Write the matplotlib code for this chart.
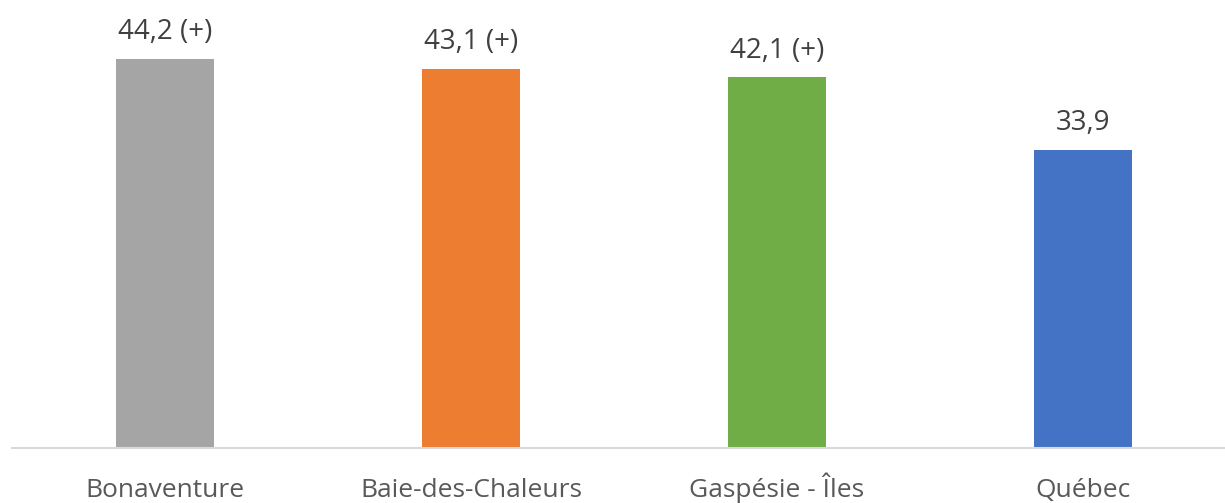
import matplotlib.pyplot as plt

# Chart data
categories = ['Bonaventure', 'Baie-des-Chaleurs', 'Gaspésie - Îles', 'Québec']
values = [44.2, 43.1, 42.1, 33.9]
labels = ['44,2 (+)', '43,1 (+)', '42,1 (+)', '33,9']
colors = ['#a5a5a5', '#ed7d31', '#70ad47', '#4472c4']

plt.rcParams['font.family'] = ['Open Sans', 'DejaVu Sans']

fig = plt.figure(figsize=(12.25, 5.03), dpi=100)
ax = fig.add_axes([12 / 1225, 1 - 448 / 503, 1224 / 1225, 448 / 503])

x = range(len(categories))
bars = ax.bar(x, values, width=0.32, color=colors, zorder=2)

# Value labels above bars
for bar, lab in zip(bars, labels):
    ax.annotate(lab, (bar.get_x() + bar.get_width() / 2, bar.get_height()),
                xytext=(0, 9), textcoords='offset points', ha='center', va='bottom',
                fontsize=20, color='#404040')

ax.set_xlim(-0.5, len(categories) - 0.5)
ax.set_ylim(0, 50.9)
ax.set_xticks(list(x))
ax.set_xticklabels(categories, fontsize=19, color='#595959', va='baseline')
ax.tick_params(axis='x', length=0, pad=35)
ax.set_yticks([])

for side in ['top', 'right', 'left']:
    ax.spines[side].set_visible(False)
ax.spines['bottom'].set_color('#d9d9d9')
ax.spines['bottom'].set_linewidth(1.5)

fig.savefig('out.png', dpi=100)
